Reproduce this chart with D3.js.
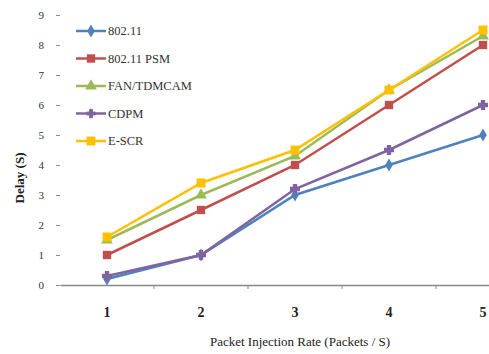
<!DOCTYPE html>
<meta charset="utf-8">
<script src="https://d3js.org/d3.v7.min.js"></script>
<style>
  body { margin: 0; background: #fff; }
  text { font-family: "Liberation Serif", "DejaVu Serif", serif; }
</style>
<div id="my_dataviz"></div>
<script>

// data
var rates = [1, 2, 3, 4, 5];
var yTicks = [0, 1, 2, 3, 4, 5, 6, 7, 8, 9];
var seriesNames = ["802.11", "802.11 PSM", "FAN/TDMCAM", "CDPM", "E-SCR"];
var d80211 = [0.2, 1.0, 3.0, 4.0, 5.0];
var dPSM = [1.0, 2.5, 4.0, 6.0, 8.0];
var dFan = [1.5, 3.0, 4.3, 6.5, 8.3];
var dCdpm = [0.3, 1.0, 3.2, 4.5, 6.0];
var dEscr = [1.6, 3.4, 4.5, 6.5, 8.5];

var colors = ["#4F81BD", "#C0504D", "#9BBB59", "#8064A2", "#FFC000"];
var symbols = [d3.symbolDiamond, d3.symbolSquare, d3.symbolTriangle, d3.symbolCross, d3.symbolSquare];
var symSizes = [50, 70, 60, 40, 80];

var width = 489, height = 354;

var svg = d3.select("#my_dataviz")
  .append("svg")
    .attr("width", width)
    .attr("height", height);

// x: category axis, one band per rate
var x = d3.scaleBand()
    .domain(rates)
    .range([60, 530]);
var y = d3.scaleLinear()
    .domain([0, 9])
    .range([285, 15]);

// x axis line + ticks between categories
var xAxis = svg.append("g")
    .attr("transform", "translate(0,285)")
    .call(d3.axisBottom(x).tickSize(0).tickPadding(22).tickSizeOuter(0));
xAxis.select(".domain").attr("stroke", "#888").attr("stroke-width", 1.5);
xAxis.selectAll("text")
    .style("font-size", "14px")
    .style("font-weight", "bold")
    .attr("fill", "#222");
xAxis.selectAll(".boundary")
  .data(rates.slice(1))
  .enter().append("line")
    .attr("x1", function(d) { return x(d); })
    .attr("x2", function(d) { return x(d); })
    .attr("y1", 0).attr("y2", 4)
    .attr("stroke", "#888");

// y axis: labels and small ticks, no line
var yAxis = svg.append("g")
    .attr("transform", "translate(60,0)")
    .call(d3.axisLeft(y).tickValues(yTicks).tickSize(4).tickPadding(12));
yAxis.select(".domain").remove();
yAxis.selectAll("line").attr("stroke", "#888");
yAxis.selectAll("text")
    .style("font-size", "11px")
    .attr("fill", "#333");

var allData = [d80211, dPSM, dFan, dCdpm, dEscr];

var line = d3.line()
    .x(function(d, i) { return x(rates[i]) + x.bandwidth() / 2; })
    .y(function(d) { return y(d); });

allData.forEach(function(vals, k) {
  svg.append("path")
    .datum(vals)
    .attr("fill", "none")
    .attr("stroke", colors[k])
    .attr("stroke-width", 2.5)
    .attr("d", line);
  svg.selectAll(".m" + k)
    .data(vals)
    .enter().append("path")
      .attr("transform", function(d, i) {
        return "translate(" + (x(rates[i]) + x.bandwidth() / 2) + "," + y(d) + ")";
      })
      .attr("d", d3.symbol().type(symbols[k]).size(symSizes[k]))
      .attr("fill", colors[k])
      .attr("stroke", k == 3 ? colors[k] : "none")
      .attr("stroke-width", 1.5);
});

// legend
var legend = svg.append("g");
seriesNames.forEach(function(name, k) {
  var ly = 31 + k * 27.5;
  legend.append("line")
    .attr("x1", 76).attr("x2", 106)
    .attr("y1", ly).attr("y2", ly)
    .attr("stroke", colors[k]).attr("stroke-width", 2.5);
  legend.append("path")
    .attr("transform", "translate(91," + ly + ")")
    .attr("d", d3.symbol().type(symbols[k]).size(symSizes[k]))
    .attr("fill", colors[k])
    .attr("stroke", k == 3 ? colors[k] : "none");
  legend.append("text")
    .attr("x", 108).attr("y", ly + 4)
    .style("font-size", "12.5px")
    .attr("fill", "#333")
    .text(name);
});

// axis titles
svg.append("text")
    .attr("transform", "translate(24,178) rotate(-90)")
    .attr("text-anchor", "middle")
    .style("font-size", "13px")
    .style("font-weight", "bold")
    .attr("fill", "#222")
    .text("Delay (S)");

svg.append("text")
    .attr("x", 300).attr("y", 346)
    .attr("text-anchor", "middle")
    .style("font-size", "13px")
    .attr("fill", "#222")
    .text("Packet Injection Rate (Packets / S)");

</script>
